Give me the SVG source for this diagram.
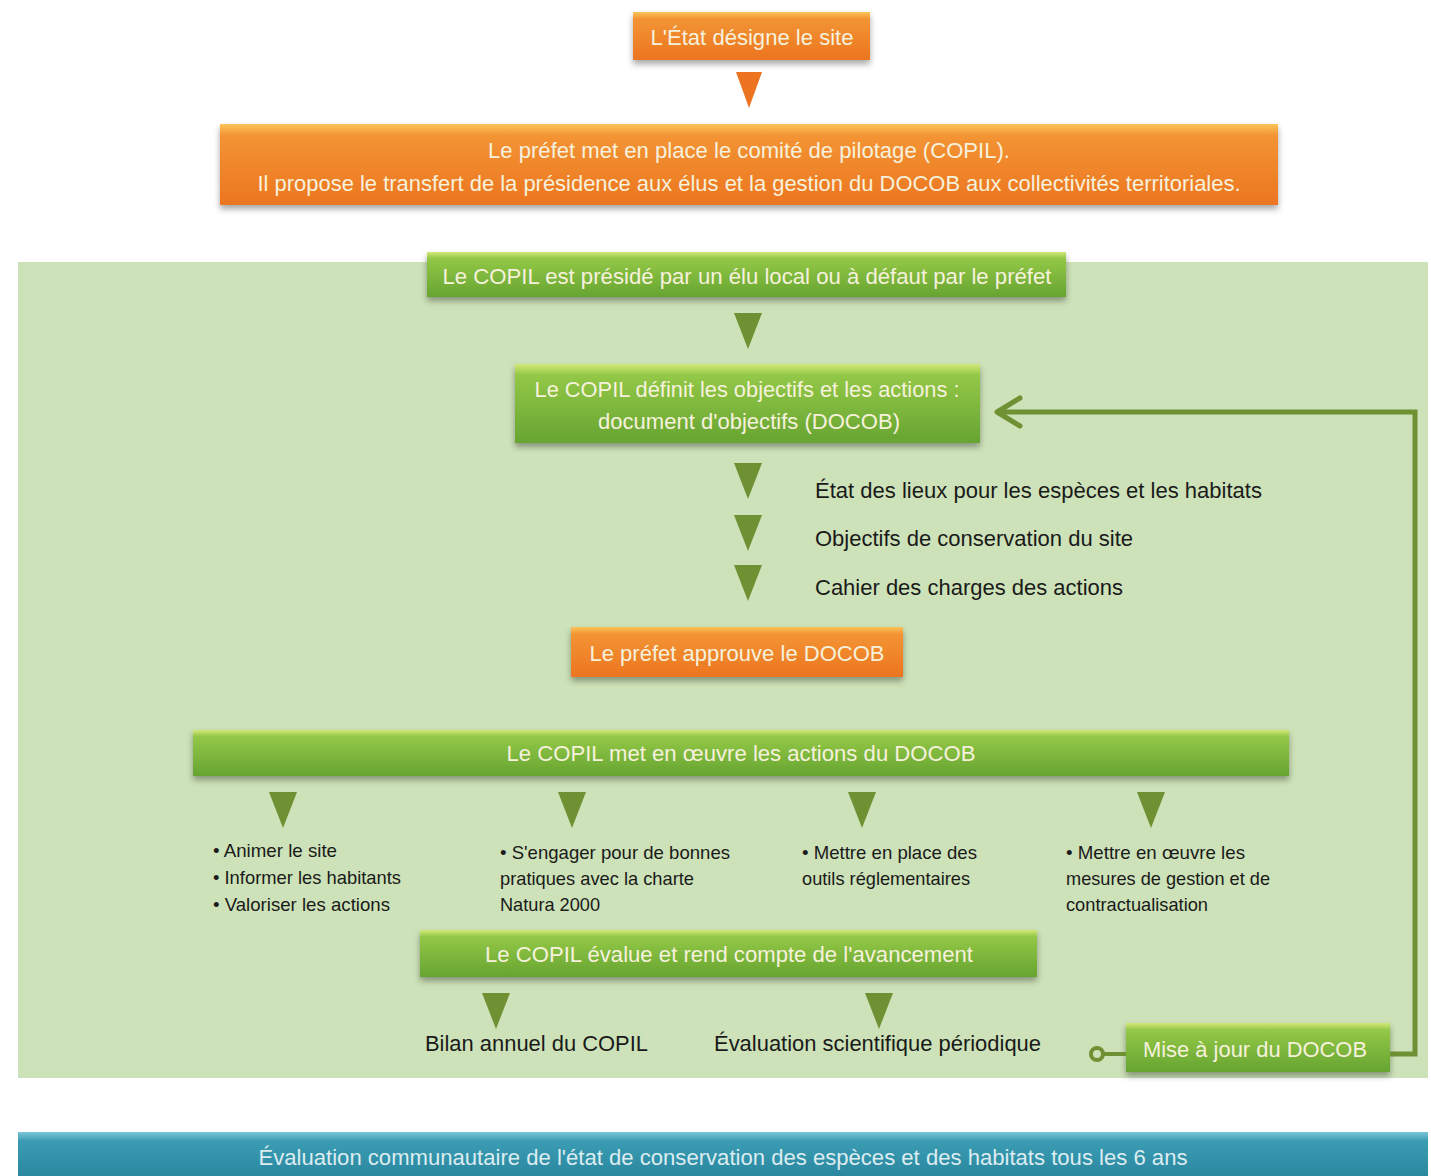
<svg xmlns="http://www.w3.org/2000/svg" width="1431" height="1176" viewBox="0 0 1431 1176">
<defs>
<linearGradient id="gOr" x1="0" y1="0" x2="0" y2="1">
<stop offset="0" stop-color="#fcc55a"/><stop offset="0.14" stop-color="#f39434"/><stop offset="1" stop-color="#ec7520"/>
</linearGradient>
<linearGradient id="gGr" x1="0" y1="0" x2="0" y2="1">
<stop offset="0" stop-color="#d4e878"/><stop offset="0.14" stop-color="#93c847"/><stop offset="1" stop-color="#66a431"/>
</linearGradient>
<linearGradient id="gBl" x1="0" y1="0" x2="0" y2="1">
<stop offset="0" stop-color="#7cc6d8"/><stop offset="0.2" stop-color="#3a9cb4"/><stop offset="1" stop-color="#2a889f"/>
</linearGradient>
<filter id="sh" x="-5%" y="-20%" width="110%" height="160%">
<feDropShadow dx="0" dy="4" stdDeviation="3" flood-color="#000" flood-opacity="0.35"/>
</filter>
</defs>
<style>
.or{fill:url(#gOr);filter:url(#sh)}
.gr{fill:url(#gGr);filter:url(#sh)}
.bt{font-family:"Liberation Sans",Arial,sans-serif;font-size:22px;fill:#f6f1dc;text-anchor:middle}
.dk{font-family:"Liberation Sans",Arial,sans-serif;font-size:22px;fill:#1a1a1a}
.sm{font-family:"Liberation Sans",Arial,sans-serif;font-size:19px;fill:#1a1a1a}
.tg{fill:#6f9133}
.to{fill:#ec7420}
.ln{fill:none;stroke:#6f9133;stroke-width:5}
</style>
<rect x="0" y="0" width="1431" height="1176" fill="#ffffff"/>
<rect id="zone" x="18" y="262" width="1410" height="816" fill="#cde2b8"/>

<g id="n1"><rect class="or" x="633" y="12" width="237" height="48"/><text class="bt" x="752" y="45" textLength="203" lengthAdjust="spacingAndGlyphs">L'État désigne le site</text></g>
<g id="n2"><rect class="or" x="220" y="124" width="1058" height="81"/>
<text class="bt" x="749" y="158" textLength="522" lengthAdjust="spacingAndGlyphs">Le préfet met en place le comité de pilotage (COPIL).</text>
<text class="bt" x="749" y="191" textLength="983" lengthAdjust="spacingAndGlyphs">Il propose le transfert de la présidence aux élus et la gestion du DOCOB aux collectivités territoriales.</text></g>
<g id="n3"><rect class="gr" x="427" y="252" width="639" height="45"/><text class="bt" x="747" y="284" textLength="609" lengthAdjust="spacingAndGlyphs">Le COPIL est présidé par un élu local ou à défaut par le préfet</text></g>
<g id="n4"><rect class="gr" x="515" y="364" width="465" height="79"/>
<text class="bt" x="747" y="397" textLength="425" lengthAdjust="spacingAndGlyphs">Le COPIL définit les objectifs et les actions :</text>
<text class="bt" x="749" y="429" textLength="302" lengthAdjust="spacingAndGlyphs">document d'objectifs (DOCOB)</text></g>
<g id="n5"><rect class="or" x="571" y="627" width="332" height="50"/><text class="bt" x="737" y="661" textLength="295" lengthAdjust="spacingAndGlyphs">Le préfet approuve le DOCOB</text></g>
<g id="n6"><rect class="gr" x="193" y="730" width="1096" height="46"/><text class="bt" x="741" y="761" textLength="469" lengthAdjust="spacingAndGlyphs">Le COPIL met en œuvre les actions du DOCOB</text></g>
<g id="n7"><rect class="gr" x="420" y="930" width="617" height="47"/><text class="bt" x="729" y="962" textLength="488" lengthAdjust="spacingAndGlyphs">Le COPIL évalue et rend compte de l'avancement</text></g>
<g id="n8"><rect class="gr" x="1126" y="1023" width="264" height="49"/><text class="bt" x="1255" y="1057" textLength="224" lengthAdjust="spacingAndGlyphs">Mise à jour du DOCOB</text></g>
<g id="n9"><rect x="18" y="1132" width="1410" height="44" fill="url(#gBl)"/><text class="bt" x="723" y="1165" textLength="929" lengthAdjust="spacingAndGlyphs" style="fill:#dcecf0">Évaluation communautaire de l'état de conservation des espèces et des habitats tous les 6 ans</text></g>

<g id="labels">
<text class="dk" x="815" y="498" textLength="447" lengthAdjust="spacingAndGlyphs">État des lieux pour les espèces et les habitats</text>
<text class="dk" x="815" y="546" textLength="318" lengthAdjust="spacingAndGlyphs">Objectifs de conservation du site</text>
<text class="dk" x="815" y="595" textLength="308" lengthAdjust="spacingAndGlyphs">Cahier des charges des actions</text>
<text class="sm" x="213" y="857" textLength="124" lengthAdjust="spacingAndGlyphs">• Animer le site</text>
<text class="sm" x="213" y="884" textLength="188" lengthAdjust="spacingAndGlyphs">• Informer les habitants</text>
<text class="sm" x="213" y="911" textLength="177" lengthAdjust="spacingAndGlyphs">• Valoriser les actions</text>
<text class="sm" x="500" y="859" textLength="230" lengthAdjust="spacingAndGlyphs">• S'engager pour de bonnes</text>
<text class="sm" x="500" y="885" textLength="194" lengthAdjust="spacingAndGlyphs">pratiques avec la charte</text>
<text class="sm" x="500" y="911" textLength="100" lengthAdjust="spacingAndGlyphs">Natura 2000</text>
<text class="sm" x="802" y="859" textLength="175" lengthAdjust="spacingAndGlyphs">• Mettre en place des</text>
<text class="sm" x="802" y="885" textLength="168" lengthAdjust="spacingAndGlyphs">outils réglementaires</text>
<text class="sm" x="1066" y="859" textLength="179" lengthAdjust="spacingAndGlyphs">• Mettre en œuvre les</text>
<text class="sm" x="1066" y="885" textLength="204" lengthAdjust="spacingAndGlyphs">mesures de gestion et de</text>
<text class="sm" x="1066" y="911" textLength="142" lengthAdjust="spacingAndGlyphs">contractualisation</text>
<text class="dk" x="425" y="1051" textLength="223" lengthAdjust="spacingAndGlyphs">Bilan annuel du COPIL</text>
<text class="dk" x="714" y="1051" textLength="327" lengthAdjust="spacingAndGlyphs">Évaluation scientifique périodique</text>
</g>

<g id="connectors">
<polygon class="to" points="736,72 762,72 749,108"/>
<polygon class="tg" points="734,313 762,313 748,349"/>
<polygon class="tg" points="734,463 762,463 748,499"/>
<polygon class="tg" points="734,515 762,515 748,551"/>
<polygon class="tg" points="734,565 762,565 748,601"/>
<polygon class="tg" points="269,792 297,792 283,828"/>
<polygon class="tg" points="558,792 586,792 572,828"/>
<polygon class="tg" points="848,792 876,792 862,828"/>
<polygon class="tg" points="1137,792 1165,792 1151,828"/>
<polygon class="tg" points="482,993 510,993 496,1029"/>
<polygon class="tg" points="865,993 893,993 879,1029"/>
<path class="ln" d="M1390,1054 H1415 V412 H997"/>
<path class="ln" d="M1020,398 L997,412 L1020,426" stroke-width="6" stroke-linecap="round" stroke-linejoin="round"/>
<line x1="1103" y1="1054" x2="1126" y2="1054" stroke="#6f9133" stroke-width="4"/>
<circle cx="1097" cy="1054" r="6" fill="#cde2b8" stroke="#6f9133" stroke-width="4"/>
</g>
</svg>
